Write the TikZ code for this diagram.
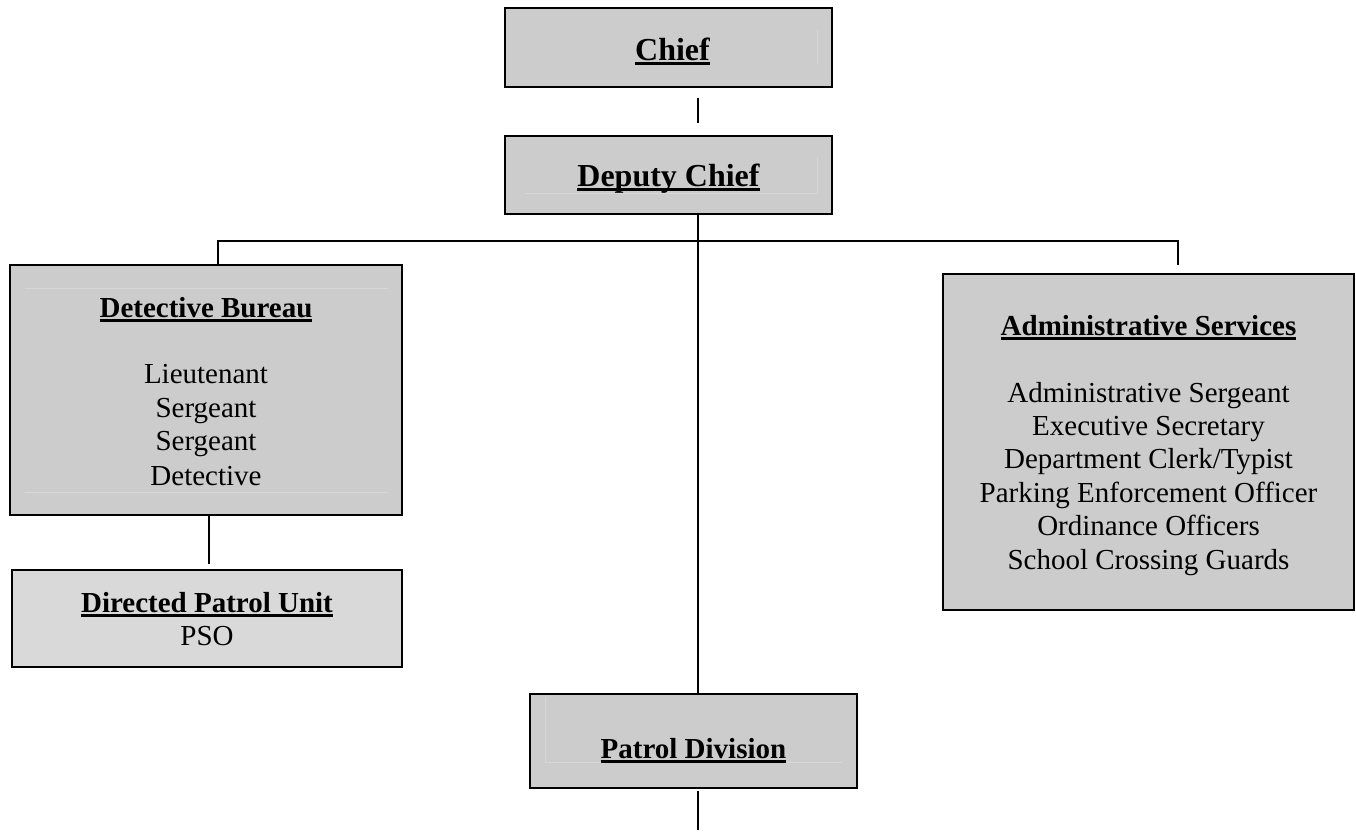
\documentclass[tikz,border=0pt]{standalone}
\usepackage{fontspec}
\setmainfont{Liberation Serif}
\newcommand{\myul}[1]{\leavevmode\setbox0=\hbox{#1}\rlap{\vrule width \wd0 height -2pt depth 4.6pt}\box0}
\definecolor{boxgray}{HTML}{CCCCCC}
\definecolor{lightbox}{HTML}{D9D9D9}
\definecolor{faintgray}{HTML}{D7D7D7}
\begin{document}
\begin{tikzpicture}[x=1pt,y=-1pt,
  box/.style={draw=black, line width=1.6pt, fill=boxgray, inner sep=0pt},
  conn/.style={draw=black, line width=2pt},
  faint/.style={draw=faintgray, line width=0.7pt},
  bigtitle/.style={font=\fontsize{32}{36}\selectfont\bfseries, anchor=base, inner sep=0pt},
  title/.style={font=\fontsize{29}{33}\selectfont\bfseries, anchor=base, inner sep=0pt},
  body/.style={font=\fontsize{29}{33}\selectfont, anchor=base, inner sep=0pt}]
\useasboundingbox (0,0) rectangle (1356,835);
\fill[white] (0,0) rectangle (1356,835);

% boxes
\node[box, minimum width=327pt, minimum height=79pt] (chief) at (668.5,47.5) {};
\node[box, minimum width=327pt, minimum height=78pt] (deputy) at (668.5,175) {};
\node[box, minimum width=392pt, minimum height=250pt] (detective) at (206,390) {};
\node[box, fill=lightbox, minimum width=390pt, minimum height=97pt] (dpu) at (207,618.5) {};
\node[box, minimum width=411pt, minimum height=336pt] (admin) at (1148.5,442) {};
\node[box, minimum width=327pt, minimum height=94pt] (patrol) at (693.5,741) {};

% faint inner lines
\draw[faint] (817,30) -- (817,64);
\draw[faint] (817,157) -- (817,193);
\draw[faint] (525,193) -- (817,193);
\draw[faint] (25,288) -- (388,288);
\draw[faint] (25,492) -- (388,492);
\draw[faint] (545,697) -- (545,762) -- (842,762);

% texts
\node[bigtitle] (tchief) at (672.5,60) {\myul{Chief}};
\node[bigtitle] (tdeputy) at (668.5,186) {\myul{Deputy Chief}};

\node[title] (tdet) at (206,317) {\myul{Detective Bureau}};
\node[body] (d1) at (206,383) {Lieutenant};
\node[body] (d2) at (206,417) {Sergeant};
\node[body] (d3) at (206,450) {Sergeant};
\node[body] (d4) at (206,485) {Detective};

\node[title] (tdpu) at (207,612) {\myul{Directed Patrol Unit}};
\node[body] (p1) at (207,645) {PSO};

\node[title] (tadmin) at (1148.5,335) {\myul{Administrative Services}};
\node[body] (a1) at (1148.5,402) {Administrative Sergeant};
\node[body] (a2) at (1148.5,435) {Executive Secretary};
\node[body] (a3) at (1148.5,468.5) {Department Clerk/Typist};
\node[body] (a4) at (1148.5,502) {Parking Enforcement Officer};
\node[body] (a5) at (1148.5,535.5) {Ordinance Officers};
\node[body] (a6) at (1148.5,569) {School Crossing Guards};

\node[title] (tpatrol) at (693.5,758) {\myul{Patrol Division}};

% connector coordinates
\coordinate (cd1) at (698,98);
\coordinate (cd2) at (698,123);
\coordinate (spine) at (698,241);
\coordinate (hl) at (218,241);
\coordinate (hr) at (1178,241);
\coordinate (hrEnd) at (1178,265);
\coordinate (dpuEnd) at (209,564);
\coordinate (pb1) at (698,791);
\coordinate (pb2) at (698,830);

% connectors
\draw[conn] (cd1) -- (cd2);
\draw[conn] (deputy.south -| spine) -- (patrol.north -| spine);
\draw[conn] (detective.north -| hl) -- (hl) -- (hr) -- (hrEnd);
\draw[conn] (detective.south -| dpuEnd) -- (dpuEnd);
\draw[conn] (pb1) -- (pb2);
\end{tikzpicture}
\end{document}
